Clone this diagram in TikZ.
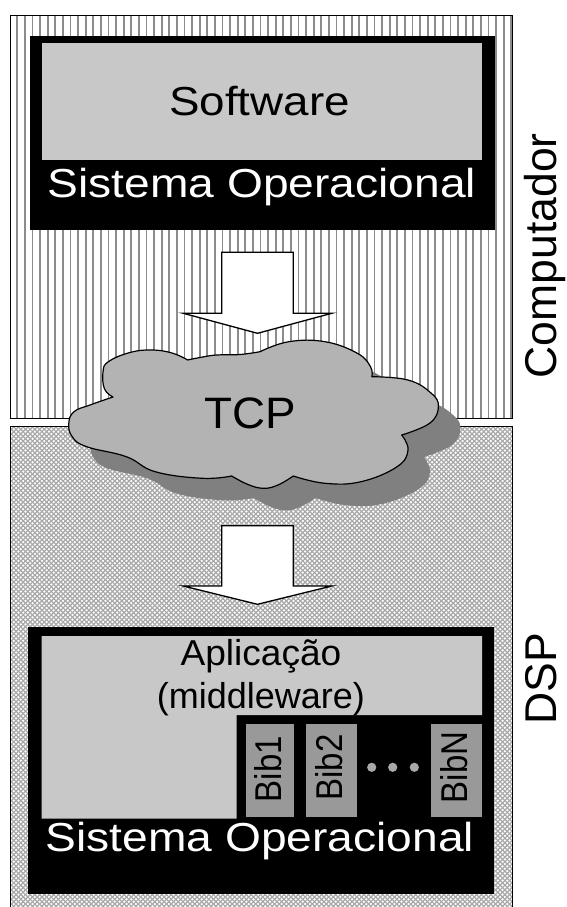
\documentclass[tikz,border=0pt]{standalone}
\usepackage{fontspec}
\setmainfont{Liberation Sans}
\usepackage{graphicx}

\definecolor{boxgray}{HTML}{C8C8C8}
\definecolor{cloudgray}{HTML}{B3B3B3}
\definecolor{shadowgray}{HTML}{808080}
\definecolor{bibgray}{HTML}{999999}
\definecolor{dotgray}{HTML}{A8A8A8}
\definecolor{stripegray}{HTML}{8C8C8C}
\definecolor{meshgray}{HTML}{A8A8A8}

% outline of the TCP cloud, one smooth lobe between each pair of notches
\newcommand{\tcpcloud}[1]{%
  \path[#1] (113,397)
    -- plot[smooth, tension=0.7] coordinates {(113,397) (104.5,389) (103,372) (108.3,361.7) (130,352.5) (151.6,350) (172,353) (187.7,360)}
    -- plot[smooth, tension=0.7] coordinates {(187.7,360) (200,357.5) (216.6,355) (240,354.5) (260,351.7)}
    -- plot[smooth, tension=0.7] coordinates {(260,351.7) (288.8,341.7) (325,341.7) (357.4,353.3) (370.5,366.7) (371.8,376.7)}
    -- plot[smooth, tension=0.7] coordinates {(371.8,376.7) (408,380) (431,393) (438.4,406.7) (429.6,423.3) (401.7,435)}
    -- plot[smooth, tension=0.7] coordinates {(401.7,435) (408,450) (397.1,466.7) (361,481.7) (325,483.3) (293.3,476)}
    -- plot[smooth, tension=0.7] coordinates {(293.3,476) (278,485) (263.5,488.3) (248,484.5) (231.7,476)}
    -- plot[smooth, tension=0.7] coordinates {(231.7,476) (202.2,478.3) (155.2,471.7) (126.4,456.7) (86.6,446.7) (72.2,436.7) (68.8,423.3) (74,411.7) (90,405) (113,397)}
    -- cycle;}

\begin{document}
\begin{tikzpicture}[x=1pt, y=-1pt,
  panelborder/.style={draw=black, line width=0.9pt},
  stripe/.style={stripegray, line width=1.8pt},
  mesh/.style={meshgray, line width=1.2pt},
  blockarrow/.style={fill=white, draw=black, line width=1.3pt, line join=miter},
  bibbox/.style={fill=bibgray},
  bibdot/.style={fill=dotgray},
  bigtext/.style={inner sep=0pt, outer sep=0pt, font=\fontsize{40.5}{48}\selectfont},
  apptext/.style={inner sep=0pt, outer sep=0pt, font=\fontsize{36}{43}\selectfont},
  sidetext/.style={inner sep=0pt, outer sep=0pt, font=\fontsize{44.5}{53}\selectfont, rotate=90, anchor=base},
  bibtext/.style={inner sep=0pt, outer sep=0pt, font=\fontsize{33}{39}\selectfont, rotate=90},
  tcptext/.style={inner sep=0pt, outer sep=0pt, font=\fontsize{44}{52}\selectfont},
]
\useasboundingbox (0,0) rectangle (566,907);

% ---- Computador panel: vertical stripes ----
\fill[white] (10.8,15) rectangle (512,418.3);
\begin{scope}
  \clip (10.8,15) rectangle (512,418.3);
  \foreach \x in {17.3,24.9,...,512} \draw[stripe] (\x,15) -- (\x,418.3);
\end{scope}
\draw[panelborder] (10.8,15) rectangle (512,418.3);

% ---- DSP panel: diagonal mesh ----
\fill[white] (10.8,426.7) rectangle (512,912);
\begin{scope}
  \clip (10.8,426.7) rectangle (512,912);
  \foreach \c in {436,440.7,...,1430} \draw[mesh] (\c-426,426) -- (\c-912,912);
  \foreach \c in {-902,-897.3,...,90} \draw[mesh] (\c+426,426) -- (\c+912,912);
\end{scope}
\draw[panelborder] (10.8,426.7) rectangle (512,912);

% ---- computer software stack ----
\fill[black] (29.6,36) rectangle (495.3,230);
\fill[boxgray] (41.5,43.3) rectangle (482,160);
\node[bigtext, anchor=base] (software) at (259.6,115) {\scalebox{1.13}[1]{Software}};
\node[bigtext, anchor=base, text=white] (so1) at (262,197.3) {\scalebox{1.14}[1]{Sistema Operacional}};

% ---- block arrows ----
\draw[blockarrow] (221.7,252.3) -- (293.3,252.3) -- (293.3,313.3) -- (331.7,313.3)
  -- (257.5,333.3) -- (183.3,313.3) -- (221.7,313.3) -- cycle;
\draw[blockarrow] (221.7,525.7) -- (293.3,525.7) -- (293.3,586) -- (331.7,586)
  -- (257.5,604.3) -- (183.3,586) -- (221.7,586) -- cycle;

% ---- TCP cloud with its shadow ----
\tcpcloud{fill=shadowgray, shift={(22,22)}}
\tcpcloud{fill=cloudgray, draw=black, line width=1.2pt, line join=round}
\node[tcptext, anchor=base] (tcp) at (250,428.3) {\scalebox{1.04}[1]{TCP}};

% ---- DSP software stack ----
\fill[black] (28.2,626.7) rectangle (493.5,894.3);
\fill[boxgray] (41.5,636) -- (482,636) -- (482,715) -- (236.6,715)
  -- (236.6,818.5) -- (41.5,818.5) -- cycle;
\node[apptext, anchor=base] (app) at (261,665) {\scalebox{1.03}[1]{Aplicação}};
\node[apptext, anchor=base] (mid) at (261,708.3) {(middleware)};

\fill[bibbox] (245.7,724) rectangle (294.3,816.7);
\fill[bibbox] (306,724) rectangle (356.7,816.7);
\fill[bibbox] (431,724) rectangle (481.7,816.7);
\node[bibtext] (bib1) at (268.4,769) {\scalebox{1}[1.13]{Bib1}};
\node[bibtext] (bib2) at (329.2,767.5) {\scalebox{1}[1.13]{Bib2}};
\node[bibtext] (bibn) at (454.5,767.5) {\scalebox{1}[1.13]{BibN}};
\fill[bibdot] (371.7,767.3) circle[radius=4.6];
\fill[bibdot] (392.7,767.3) circle[radius=4.6];
\fill[bibdot] (414.3,767.3) circle[radius=4.6];

\node[bigtext, anchor=base, text=white] (so2) at (259.9,851.7) {\scalebox{1.14}[1]{Sistema Operacional}};

% ---- side labels ----
\node[sidetext] (comp) at (556,255.8) {Computador};
\node[sidetext] (dsp) at (556,679) {DSP};
\end{tikzpicture}
\end{document}
